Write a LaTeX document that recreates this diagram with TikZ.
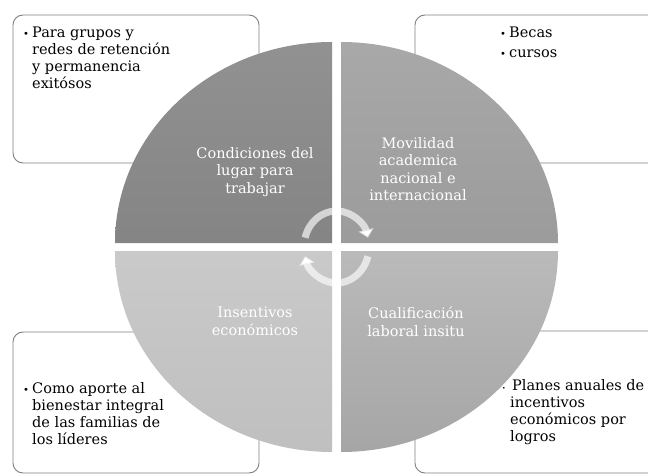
\documentclass[tikz,border=0pt]{standalone}
\usepackage{fontspec}
\setmainfont{DejaVu Serif}
\usetikzlibrary{arrows.meta}
\newcommand{\vin}{\llap{\makebox[9pt][l]{\fontsize{10}{10}\selectfont•}}}
\newcommand{\vinchica}{\llap{\makebox[8pt][l]{\fontsize{6}{6}\selectfont•}}}
\begin{document}
\begin{tikzpicture}[x=1pt,y=1pt,
  caja/.style={draw=black!50, line width=0.9pt, fill=white, rounded corners=10pt},
  vinieta/.style={anchor=north west, inner sep=0pt, align=left, font=\fontsize{14.5}{17}\selectfont},
  cuadrante/.style={anchor=north, inner sep=0pt, align=center, text=white, font=\fontsize{14.5}{17.5}\selectfont},
  giro/.style={draw=white, draw opacity=0.65, line width=7pt, -{Triangle[width=15pt,length=8pt]}}]
\useasboundingbox (0,0) rectangle (648,475);
\clip (0,0) rectangle (648,475);
\pgfmathsetmacro\rx{217}
\pgfmathsetmacro\ry{201}
\draw[caja] (13,312) rectangle (259,460);
\draw[caja] (415,312) rectangle (700,460);
\draw[caja] (13,2) rectangle (259,143);
\draw[caja] (415,2) rectangle (700,144);
\foreach \cx/\cy/\a/\ga/\gb in {332/232/90/0.57/0.52, 341/232/0/0.66/0.61, 332/224/180/0.79/0.75, 341/224/270/0.73/0.65} {
  \definecolor{arriba}{gray}{\ga}
  \definecolor{abajo}{gray}{\gb}
  \path[top color=arriba, bottom color=abajo] (\cx,\cy) -- ++(\a:\rx pt and \ry pt) arc[start angle=\a, delta angle=90, x radius=\rx, y radius=\ry] -- cycle;
}
\draw[giro] (336.5,228) ++(165:32.5pt and 36pt) arc[start angle=165, end angle=15, x radius=32.5, y radius=36];
\draw[giro] (336.5,228) ++(-15:32.5pt and 36pt) arc[start angle=-15, end angle=-165, x radius=32.5, y radius=36];
\node[cuadrante] (condiciones) at (255,328) {Condiciones del\\lugar para\\trabajar};
\node[cuadrante] (movilidad) at (418,338) {Movilidad\\academica\\nacional e\\internacional};
\node[cuadrante] (incentivos) at (255,168) {Insentivos\\económicos};
\node[cuadrante] (cualificacion) at (416,168) {Cualificación\\laboral insitu};
\node[vinieta] (notaGrupos) at (32,448) {\vin Para grupos y\\redes de retención\\y permanencia\\exitósos};
\node[vinieta] (notaBecas) at (509,448) {\vin Becas\\[3pt]\vin cursos};
\node[vinieta] (notaFamilias) at (32,93) {\vin Como aporte al\\bienestar integral\\de las familias de\\los líderes};
\node[vinieta] (notaPlanes) at (510,96) {\vinchica\hspace{2pt}Planes anuales de\\incentivos\\económicos por\\logros};
\end{tikzpicture}
\end{document}
